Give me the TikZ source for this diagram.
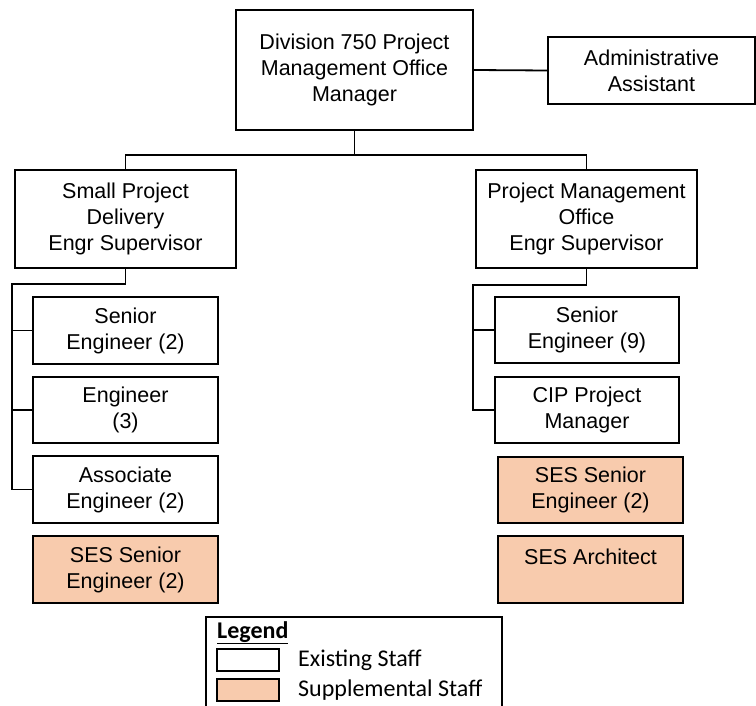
\documentclass[tikz,border=0pt]{standalone}
\usepackage{fontspec}
\setmainfont{Liberation Sans}
\newfontfamily\legendfont{Carlito}
\definecolor{StaffSupp}{HTML}{F8CBAD}

\begin{document}
\begin{tikzpicture}[x=1pt,y=-1pt,
    staff/.style={draw,line width=1.8pt,align=center,inner sep=0pt,
      font=\fontsize{21.5}{26}\selectfont},
    existing/.style={staff,fill=white},
    supplemental/.style={staff,fill=StaffSupp},
    link/.style={line width=1.8pt},
    keytext/.style={anchor=west,inner sep=0pt,font=\legendfont\fontsize{24}{28}\selectfont}]
    \useasboundingbox (0,0) rectangle (756,706);
    \clip (0,0) rectangle (756,706);

    % Office manager and assistant
    \node[existing,minimum width=237pt,minimum height=120pt] (mgr)   at (354.5,70)  {Division 750 Project\\Management Office\\Manager};
    \node[existing,minimum width=207pt,minimum height=67pt]  (admin) at (651.5,70.5) {Administrative\\Assistant};

    % Supervisors
    \node[existing,minimum width=221pt,minimum height=98pt] (spd) at (125.5,219) {Small Project\\Delivery\\Engr Supervisor};
    \node[existing,minimum width=221pt,minimum height=98pt] (pmo) at (586.5,219) {Project Management\\Office\\Engr Supervisor};

    % Small project delivery staff
    \node[existing,minimum width=185pt,minimum height=67pt]     (spdA) at (125.5,330.5) {Senior\\Engineer (2)};
    \node[existing,minimum width=185pt,minimum height=66pt]     (spdB) at (125.5,410)   {Engineer\\(3)};
    \node[existing,minimum width=185pt,minimum height=67pt]     (spdC) at (125.5,489.5) {Associate\\Engineer (2)};
    \node[supplemental,minimum width=185pt,minimum height=67pt] (spdD) at (125.5,569.5) {SES Senior\\Engineer (2)};

    % Project management office staff
    \node[existing,minimum width=184pt,minimum height=66pt]     (pmoA) at (587,330)    {Senior\\Engineer (9)};
    \node[existing,minimum width=184pt,minimum height=66pt]     (pmoB) at (587,410)    {CIP Project\\Manager};
    \node[supplemental,minimum width=185pt,minimum height=66pt] (pmoC) at (590.5,490)  {SES Senior\\Engineer (2)};
    \node[supplemental,minimum width=185pt,minimum height=67pt] (pmoD) at (590.5,569.5) {SES Architect\\\mbox{}};

    % Reporting lines
    \draw[link] (mgr.east) -- (admin.west);
    \draw[link] (mgr.south) -- ++(0,24) coordinate (bus);
    \draw[link] (bus) -| (spd.north);
    \draw[link] (bus) -| (pmo.north);

    \coordinate (lspine) at (12,284);
    \draw[link] (spd.south) |- (lspine) |- (spdC.west);
    \draw[link] (lspine |- spdA.west) -- (spdA.west);
    \draw[link] (lspine |- spdB.west) -- (spdB.west);

    \coordinate (rspine) at (473,285);
    \draw[link] (pmo.south) |- (rspine) |- (pmoB.west);
    \draw[link] (rspine |- pmoA.west) -- (pmoA.west);

    % Legend
    \draw[line width=1.5pt] (206,617) rectangle (502,716);
    \node[anchor=base west,inner sep=0pt,font=\legendfont\fontsize{24}{28}\selectfont\bfseries] (legtitle) at (217,638) {\underline{Legend}};
    \node[existing,minimum width=62pt,minimum height=22pt]     (keyold) at (248,660) {};
    \node[supplemental,minimum width=62pt,minimum height=22pt] (keynew) at (248,690) {};
    \node[keytext] (keyoldtxt) at (298,660) {Existing Staff};
    \node[keytext] (keynewtxt) at (298,690) {Supplemental Staff};
  \end{tikzpicture}
\end{document}
